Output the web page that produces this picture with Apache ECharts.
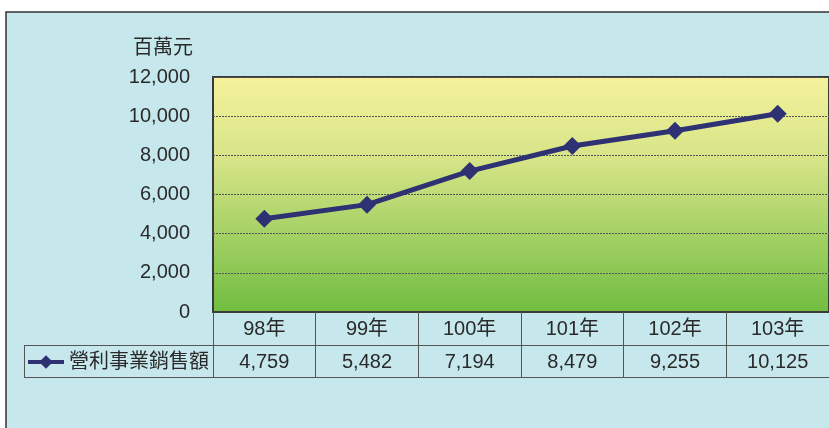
<!DOCTYPE html>
<html>
<head>
<meta charset="utf-8">
<script src="https://cdn.jsdelivr.net/npm/echarts@6/dist/echarts.min.js"></script>
<style>
  html, body { margin: 0; padding: 0; background: #fff; }
  #salesChart { width: 829px; height: 428px; }
</style>
</head>
<body>
<div id="salesChart"></div>
<script>
// 營利事業銷售額 (百萬元)
var categories = ['98年', '99年', '100年', '101年', '102年', '103年']
var salesValues = [4759, 5482, 7194, 8479, 9255, 10125]
var seriesName = '營利事業銷售額'
var unitName = '百萬元'

var fontFamily = '"Liberation Sans", Arial, "Noto Sans CJK TC", sans-serif'
var textColor = '#2a2a2a'
var fontSize = 20

function fmt (v) {
  return Number(v).toLocaleString('en-US')
}

var chart = echarts.init(document.getElementById('salesChart'))

var option = {
  backgroundColor: '#fff',
  animation: false,
  textStyle: { fontFamily: fontFamily },
  graphic: [
    {
      type: 'rect', z: -10,
      shape: { x: 6, y: 12, width: 900, height: 500 },
      style: { fill: '#c6e7ec', stroke: '#333', lineWidth: 1.5 }
    },
    // legend cell borders of the data table
    { type: 'line', z: 5, shape: { x1: 24, y1: 345.5, x2: 213, y2: 345.5 }, style: { stroke: '#555', lineWidth: 1 } },
    { type: 'line', z: 5, shape: { x1: 24, y1: 377.5, x2: 213, y2: 377.5 }, style: { stroke: '#555', lineWidth: 1 } },
    { type: 'line', z: 5, shape: { x1: 24.5, y1: 345, x2: 24.5, y2: 378 }, style: { stroke: '#555', lineWidth: 1 } }
  ],
  legend: {
    left: 26,
    top: 352,
    padding: 0,
    itemWidth: 36,
    itemHeight: 17,
    itemGap: 5,
    lineStyle: { width: 4 },
    textStyle: { fontSize: fontSize, color: textColor, fontFamily: fontFamily },
    data: [seriesName]
  },
  grid: {
    left: 213,
    top: 77,
    right: -1,
    bottom: 116,
    show: true,
    borderColor: '#3a3a3a',
    borderWidth: 2,
    backgroundColor: {
      type: 'linear', x: 0, y: 0, x2: 0, y2: 1,
      colorStops: [
        { offset: 0, color: '#f6f29c' },
        { offset: 0.35, color: '#d6e487' },
        { offset: 1, color: '#70bd41' }
      ]
    }
  },
  xAxis: [
    {
      type: 'category',
      data: categories,
      position: 'bottom',
      axisLine: { show: true, lineStyle: { color: '#3a3a3a', width: 2 } },
      axisTick: { show: true, length: 65, lineStyle: { color: '#555', width: 1 } },
      axisLabel: { margin: 7, fontSize: fontSize, color: textColor }
    },
    {
      type: 'category',
      data: salesValues.map(fmt),
      position: 'bottom',
      offset: 33,
      axisLine: { show: true, lineStyle: { color: '#555', width: 1 } },
      axisTick: { show: false },
      axisLabel: { margin: 7, fontSize: fontSize, color: textColor }
    },
    {
      type: 'category',
      data: categories,
      position: 'bottom',
      offset: 65,
      axisLine: { show: true, lineStyle: { color: '#555', width: 1 } },
      axisTick: { show: false },
      axisLabel: { show: false }
    }
  ],
  yAxis: {
    type: 'value',
    min: 0,
    max: 12000,
    interval: 2000,
    name: unitName,
    nameLocation: 'end',
    nameGap: 19,
    nameTextStyle: { fontSize: fontSize, color: textColor, align: 'right', padding: [0, 20, 0, 0] },
    axisLine: { show: false },
    axisTick: { show: false },
    axisLabel: { margin: 23, fontSize: fontSize, color: textColor, formatter: fmt },
    splitLine: { show: true, lineStyle: { color: '#555', type: [2, 1], width: 1 } }
  },
  series: [
    {
      name: seriesName,
      type: 'line',
      data: salesValues,
      color: '#2e3172',
      lineStyle: { width: 5, color: '#2e3172' },
      symbol: 'diamond',
      symbolSize: 18,
      itemStyle: { color: '#2e3172' }
    }
  ]
}

chart.setOption(option)
</script>
</body>
</html>
